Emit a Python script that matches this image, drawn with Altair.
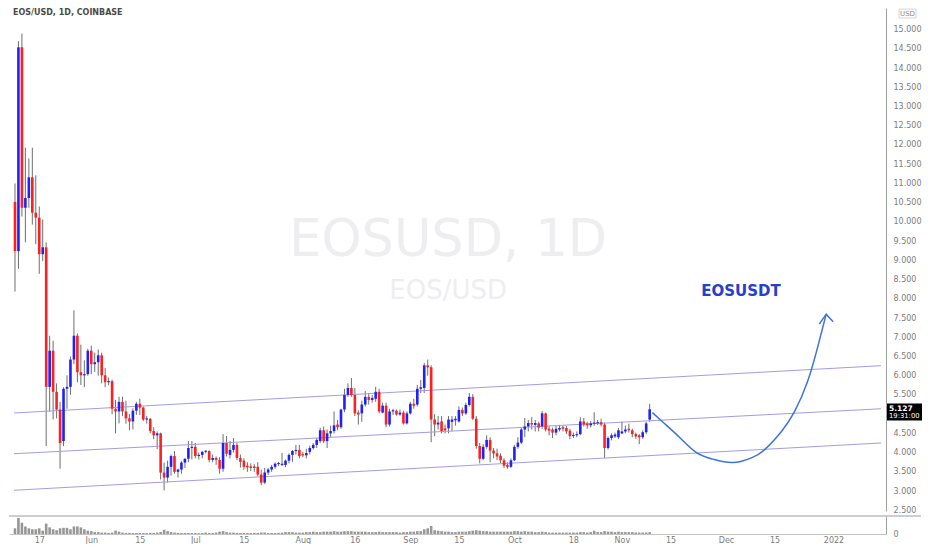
import altair as alt
import pandas as pd

# ---------------- data (EOS/USD daily candles from 2021-05-10) ----------------
opens = [10.52, 9.24, 14.54, 10.37, 10.62, 11.16, 10.24, 10.11, 9.16, 9.34,
         5.71, 6.65, 5.58, 5.12, 4.30, 5.66, 5.71, 6.42, 7.04, 6.09,
         6.01, 6.04, 6.65, 6.30, 6.35, 6.53, 6.01, 5.83, 5.86, 5.14,
         5.07, 5.32, 5.07, 4.89, 4.81, 5.09, 5.27, 5.17, 4.86, 4.88,
         4.56, 4.45, 4.50, 3.48, 3.35, 3.63, 3.91, 3.50, 3.56, 3.74,
         3.84, 4.12, 4.15, 3.91, 3.94, 4.02, 4.04, 3.81, 3.86, 3.81,
         3.58, 4.25, 3.94, 4.07, 4.20, 3.86, 3.79, 3.66, 3.64, 3.64,
         3.63, 3.43, 3.22, 3.48, 3.56, 3.63, 3.70, 3.68, 3.68, 3.79,
         3.94, 4.04, 4.07, 3.96, 3.93, 4.02, 4.12, 4.20, 4.30, 4.58,
         4.30, 4.50, 4.56, 4.73, 4.66, 5.12, 5.50, 5.68, 5.50, 5.04,
         5.02, 5.25, 5.45, 5.37, 5.40, 5.58, 5.04, 5.22, 4.73, 5.07,
         5.09, 4.99, 5.04, 4.76, 5.02, 5.27, 5.25, 5.66, 5.68, 6.27,
         6.22, 4.86, 4.73, 4.81, 4.63, 4.63, 4.80, 4.84, 4.81, 5.11,
         5.02, 5.24, 5.45, 4.88, 4.17, 3.84, 4.15, 4.33, 4.05, 3.98,
         3.92, 3.80, 3.68, 3.63, 3.80, 4.15, 4.26, 4.60, 4.68, 4.77,
         4.72, 4.76, 4.68, 5.02, 4.62, 4.60, 4.52, 4.60, 4.66, 4.64,
         4.57, 4.43, 4.45, 4.48, 4.81, 4.76, 4.71, 4.75, 4.76, 4.79,
         4.73, 4.12, 4.38, 4.42, 4.40, 4.50, 4.55, 4.62, 4.58, 4.48,
         4.45, 4.40, 4.53, 4.86]
highs = [11.00, 14.70, 14.90, 11.93, 11.65, 11.93, 11.21, 10.40, 10.06, 9.47,
         7.04, 6.91, 5.80, 5.32, 5.70, 6.01, 6.50, 7.70, 7.10, 6.81,
         6.40, 6.70, 6.78, 6.60, 6.68, 6.60, 6.20, 5.95, 5.90, 5.37,
         5.45, 5.45, 5.35, 5.00, 5.15, 5.32, 5.40, 5.20, 4.95, 4.90,
         4.66, 4.55, 4.52, 3.74, 3.79, 3.95, 4.04, 3.58, 3.78, 3.85,
         4.30, 4.30, 4.25, 4.00, 4.04, 4.06, 4.06, 3.95, 3.90, 3.88,
         4.48, 4.43, 4.30, 4.38, 4.25, 3.95, 3.85, 3.75, 3.72, 3.70,
         3.75, 3.55, 3.60, 3.60, 3.68, 3.75, 3.76, 3.99, 3.82, 3.98,
         4.07, 4.20, 4.20, 4.02, 4.10, 4.18, 4.25, 4.38, 4.65, 4.68,
         4.60, 4.70, 5.07, 4.85, 5.14, 5.66, 5.80, 5.94, 5.68, 5.10,
         5.35, 5.60, 5.55, 5.50, 5.71, 5.66, 5.30, 5.30, 5.14, 5.14,
         5.12, 5.12, 5.09, 5.07, 5.32, 5.40, 5.76, 5.89, 6.33, 6.42,
         6.27, 5.00, 4.95, 4.95, 4.73, 4.95, 4.95, 4.95, 5.20, 5.17,
         5.30, 5.55, 5.52, 4.95, 4.25, 4.22, 4.45, 4.40, 4.12, 4.10,
         3.98, 3.85, 3.75, 3.85, 4.20, 4.40, 4.65, 4.90, 4.85, 4.92,
         4.85, 4.80, 5.08, 5.04, 4.70, 4.65, 4.70, 4.72, 4.70, 4.70,
         4.62, 4.52, 4.55, 4.92, 4.90, 4.80, 4.82, 5.05, 4.85, 4.88,
         4.78, 4.42, 4.50, 4.52, 4.64, 4.81, 4.70, 4.75, 4.62, 4.52,
         4.48, 4.58, 4.80, 5.27]
lows = [8.19, 8.78, 10.14, 9.47, 10.37, 9.93, 9.42, 8.65, 8.98, 4.17,
        5.07, 4.86, 4.89, 3.58, 4.17, 5.14, 5.50, 6.30, 5.83, 5.76,
        5.70, 6.00, 6.04, 6.10, 6.00, 5.80, 5.70, 5.75, 5.00, 4.50,
        4.76, 4.95, 4.75, 4.58, 4.60, 4.98, 4.98, 4.82, 4.75, 4.50,
        4.35, 4.09, 3.30, 3.02, 3.22, 3.40, 3.45, 3.35, 3.45, 3.60,
        3.75, 3.82, 3.85, 3.82, 3.85, 3.98, 3.75, 3.75, 3.68, 3.45,
        3.50, 3.90, 3.85, 4.00, 3.80, 3.61, 3.55, 3.50, 3.52, 3.50,
        3.38, 3.15, 3.18, 3.42, 3.50, 3.58, 3.65, 3.65, 3.62, 3.72,
        3.76, 3.95, 3.85, 3.88, 3.85, 3.95, 4.08, 4.12, 4.25, 4.25,
        4.12, 4.40, 4.50, 4.58, 4.62, 5.05, 5.45, 5.45, 4.95, 4.73,
        4.80, 5.20, 5.25, 5.30, 5.32, 5.02, 5.02, 4.66, 4.68, 4.98,
        4.96, 4.96, 4.73, 4.73, 4.99, 5.14, 5.20, 5.55, 5.55, 6.00,
        4.27, 4.43, 4.60, 4.50, 4.50, 4.50, 4.55, 4.70, 4.78, 4.95,
        4.98, 5.20, 4.85, 4.10, 3.72, 3.80, 4.10, 3.75, 3.85, 3.80,
        3.72, 3.60, 3.58, 3.60, 3.78, 4.10, 4.22, 4.40, 4.55, 4.60,
        4.55, 4.55, 4.62, 4.55, 4.45, 4.38, 4.45, 4.55, 4.55, 4.48,
        4.35, 4.38, 4.40, 4.45, 4.68, 4.62, 4.65, 4.70, 4.72, 4.68,
        3.86, 4.08, 4.32, 4.38, 4.35, 4.48, 4.50, 4.52, 4.40, 4.36,
        4.22, 4.36, 4.48, 4.80]
closes = [9.24, 14.54, 10.37, 10.62, 11.16, 10.24, 10.11, 9.16, 9.34, 5.71,
          6.65, 5.58, 5.12, 4.25, 5.66, 5.71, 6.42, 7.04, 6.09, 6.01,
          6.04, 6.65, 6.30, 6.35, 6.53, 6.01, 5.83, 5.86, 5.14, 5.07,
          5.32, 5.07, 4.89, 4.81, 5.09, 5.27, 5.17, 4.86, 4.88, 4.56,
          4.45, 4.50, 3.48, 3.35, 3.63, 3.91, 3.50, 3.56, 3.74, 3.84,
          4.12, 4.15, 3.91, 3.94, 4.02, 4.04, 3.81, 3.86, 3.81, 3.58,
          4.25, 3.97, 4.07, 4.20, 3.86, 3.76, 3.63, 3.62, 3.60, 3.60,
          3.43, 3.22, 3.48, 3.56, 3.63, 3.71, 3.72, 3.70, 3.79, 3.94,
          4.04, 4.07, 3.91, 3.93, 3.99, 4.12, 4.20, 4.33, 4.58, 4.30,
          4.50, 4.56, 4.71, 4.66, 5.12, 5.50, 5.68, 5.50, 5.02, 4.99,
          5.25, 5.45, 5.37, 5.42, 5.58, 5.07, 5.22, 4.73, 5.07, 5.10,
          4.99, 5.04, 4.76, 5.02, 5.27, 5.22, 5.66, 5.70, 6.27, 6.22,
          4.86, 4.73, 4.78, 4.56, 4.58, 4.86, 4.86, 4.88, 5.11, 5.02,
          5.24, 5.45, 4.88, 4.17, 3.84, 4.15, 4.33, 4.05, 3.98, 3.90,
          3.80, 3.66, 3.63, 3.80, 4.15, 4.26, 4.60, 4.68, 4.77, 4.73,
          4.77, 4.65, 5.02, 4.60, 4.57, 4.52, 4.62, 4.64, 4.62, 4.55,
          4.43, 4.46, 4.48, 4.81, 4.73, 4.71, 4.76, 4.78, 4.79, 4.73,
          4.12, 4.38, 4.45, 4.47, 4.58, 4.55, 4.60, 4.58, 4.48, 4.42,
          4.40, 4.53, 4.76, 5.127]
volumes = [6, 17, 12, 8, 6, 5, 5, 6, 3.5, 11, 7, 5, 4, 6, 6.5, 6.5, 5, 8, 8, 7, 5, 3.5, 3,
           2, 2, 1.5, 1.5, 1.2, 1.5, 3.5, 2.5, 1.5, 1.2, 1.2, 1, 1, 1, 1, 1, 1.2, 1.2, 1.5,
           2, 4.5, 3, 2, 1.5, 1.2, 1, 1, 1, 1, 1, 0.8, 1, 1.5, 1, 1, 1.5, 2.5,
           3, 2, 1.5, 1.5, 1.2, 1, 1, 1, 1, 1.2, 1.2, 1.5, 1.5, 1, 1, 1, 1.2, 1.5, 2, 2,
           2, 1.5, 1.5, 1.5, 2, 2, 2.5, 2, 2, 2.5, 2.5, 2.5, 3, 2.5,
           2.5, 3, 3, 3, 2.5, 2.5, 2.5, 2.5, 2, 2, 2, 2.5, 2, 2, 2, 2, 2, 1.5, 2, 2,
           2.5, 2.5, 3, 3, 5, 6, 8.5,
           4, 3.5, 3, 2.5, 2.5, 2, 2, 2.5, 2.5, 2.5, 3, 3.5, 4, 3.5, 3, 3, 2.5,
           2.5, 2.5, 2.5, 2.5, 2.5, 2.5, 3, 3, 2.5, 3, 2.5, 2.5, 2, 2, 2.5, 2, 1.5, 1.5,
           1.5, 1.5, 1.5, 1.5, 1.5, 1.5, 1.5, 2, 2, 1.5, 2,
           3.5, 2, 2, 3, 2.5, 2.5, 2, 2.5, 2, 2, 2, 2, 1.5, 1.5, 1.5, 1.5, 2]

# x-axis ticks (day index from 2021-05-10) and their labels
tick_days = [7, 22, 36, 52, 66, 83, 98, 114, 128, 144, 161, 175, 189, 205, 219, 236]
tick_labels = ["17", "Jun", "15", "Jul", "15", "Aug", "16", "Sep", "15", "Oct",
               "18", "Nov", "15", "Dec", "15", "2022"]
price_ticks = [2.5, 3.0, 3.5, 4.0, 4.5, 5.5, 6.0, 6.5, 7.0, 7.5, 8.0, 8.5, 9.0,
               9.5, 10.0, 10.5, 11.0, 11.5, 12.0, 12.5, 13.0, 13.5, 14.0, 14.5, 15.0]

# parallel channel (start / end of each line)
channel_days = [-0.28, 249.7]
channel_top = [5.03, 6.26]
channel_mid = [3.97, 5.14]
channel_bot = [3.02, 4.25]

# projected path (hand drawn curve) and its arrow head
curve_days = [183.8, 187.1, 191.8, 196.5, 201.2, 206.9, 212.5, 216.3, 221.0, 224.8, 228.5, 231.4, 233.9]
curve_prices = [5.04, 4.77, 4.38, 4.00, 3.83, 3.74, 3.87, 4.09, 4.55, 5.07, 5.84, 6.73, 7.60]
arrow_days = [231.9, 233.9, 235.9]
arrow_prices = [7.34, 7.60, 7.40]

last_time = "19:31:00"

# ---------------- layout ----------------
W = 877
H = 503
VH = 18
X_DOMAIN = [-0.28, 249.7]
Y_DOMAIN = [2.481, 15.563]

BLUE = "#1f1fff"
RED = "#ff1f1f"
WICK = "#6e6e6e"
CHAN = "#a29ce6"
CURVE = "#3d74d9"
AXIS_TXT = "#7c7c7c"
AXIS_LINE = "#a0a0a0"

xs = alt.Scale(domain=X_DOMAIN, nice=False, zero=False)
ys = alt.Scale(domain=Y_DOMAIN, nice=False, zero=False)

df = pd.DataFrame({"day": list(range(len(opens))), "open": opens, "high": highs,
                   "low": lows, "close": closes, "volume": volumes})
df["dir"] = ["up" if c >= o else "down" for o, c in zip(opens, closes)]

price_axis = alt.Axis(orient="right", values=price_ticks, format=".3f", title=None,
                      grid=False, ticks=False, domainColor=AXIS_LINE, labelColor=AXIS_TXT,
                      labelFontSize=8, labelPadding=7, labelOverlap=False)


def px(field="day"):
    return alt.X(f"{field}:Q", scale=xs, axis=None)


def py(field="price"):
    return alt.Y(f"{field}:Q", scale=ys, axis=price_axis)


base = alt.Chart(df)

wicks = base.mark_rule(color=WICK, strokeWidth=1).encode(x=px(), y=py("low"), y2="high:Q")

bodies = base.transform_calculate(
    lo="min(datum.open, datum.close)",
    hi="max(max(datum.open, datum.close), min(datum.open, datum.close) + 0.03)",
).mark_bar(size=2.6).encode(
    x=px(), y=py("lo"), y2="hi:Q",
    color=alt.Color("dir:N", scale=alt.Scale(domain=["up", "down"], range=[BLUE, RED]), legend=None),
)

chan_rows = []
for name, vals in [("top", channel_top), ("mid", channel_mid), ("bot", channel_bot)]:
    for d, v in zip(channel_days, vals):
        chan_rows.append({"line": name, "day": d, "price": v})
channels = alt.Chart(pd.DataFrame(chan_rows)).mark_line(color=CHAN, strokeWidth=1).encode(
    x=px(), y=py(), detail="line:N")

curve = alt.Chart(pd.DataFrame({"day": curve_days, "price": curve_prices,
                                "o": list(range(len(curve_days)))})).mark_line(
    color=CURVE, strokeWidth=1.5, interpolate="natural").encode(x=px(), y=py(), order="o:Q")
arrow = alt.Chart(pd.DataFrame({"day": arrow_days, "price": arrow_prices, "o": [0, 1, 2]})).mark_line(
    color=CURVE, strokeWidth=1.5).encode(x=px(), y=py(), order="o:Q")

wm_big = pd.DataFrame({"day": [124.9], "price": [9.50], "t": ["EOSUSD, 1D"]})
wm_small = pd.DataFrame({"day": [124.9], "price": [8.19], "t": ["EOS/USD"]})
watermark_big = alt.Chart(wm_big).mark_text(fontSize=51, color="#eeeef1", align="center",
                                            baseline="middle").encode(x=px(), y=py(), text="t:N")
watermark_small = alt.Chart(wm_small).mark_text(fontSize=26, color="#eeeef1", align="center",
                                                baseline="middle").encode(x=px(), y=py(), text="t:N")

label_df = pd.DataFrame({"day": [209.3], "price": [8.19], "t": ["EOSUSDT"]})
eosusdt = alt.Chart(label_df).mark_text(fontSize=15, fontWeight="bold", color="#2541c9",
                                        align="center", baseline="middle").encode(
    x=px(), y=py(), text="t:N")

title_df = pd.DataFrame({"t": ["EOS/USD, 1D, COINBASE"]})
title = alt.Chart(title_df).mark_text(fontSize=8, fontWeight="bold", color="#4a4a4a",
                                      align="left", baseline="top").encode(
    x=alt.value(4), y=alt.value(1), text="t:N")

last_price = closes[-1]
box_df = pd.DataFrame({"price": [last_price], "top": [last_price + 0.15], "bot": [last_price - 0.29],
                       "t1": [f"{last_price:.3f}"], "t2": [last_time]})
price_box = alt.Chart(box_df).mark_rect(color="#000000").encode(
    x=alt.value(W + 1), x2=alt.value(W + 36), y=py("top"), y2="bot:Q")
price_t1 = alt.Chart(box_df).mark_text(color="white", fontSize=7.5, fontWeight="bold", align="left",
                                       baseline="middle", dy=-0.5).encode(
    x=alt.value(W + 3), y=py(), text="t1:N")
price_t2 = alt.Chart(box_df).mark_text(color="white", fontSize=6.8, align="left",
                                       baseline="middle", dy=6.5).encode(
    x=alt.value(W + 3), y=py(), text="t2:N")

usd_df = pd.DataFrame({"t": ["USD"]})
usd_box = alt.Chart(usd_df).mark_rect(fill="white", stroke="#d6d6d6", strokeWidth=1).encode(
    x=alt.value(W + 13), x2=alt.value(W + 30), y=alt.value(1), y2=alt.value(10))
usd_txt = alt.Chart(usd_df).mark_text(fontSize=7, color="#8a8a8a", align="center",
                                      baseline="middle").encode(
    x=alt.value(W + 21.5), y=alt.value(5.7), text="t:N")

price_chart = alt.layer(
    wicks, watermark_big, watermark_small, channels, bodies, curve, arrow, eosusdt,
    title, price_box, price_t1, price_t2, usd_box, usd_txt,
).properties(width=W, height=H)

# ---------------- volume pane ----------------
labels_js = "[" + ",".join(f"'{l}'" for l in tick_labels) + "]"
vals_js = "[" + ",".join(str(v) for v in tick_days) + "]"
x_axis = alt.Axis(values=tick_days, labelExpr=f"{labels_js}[indexof({vals_js}, datum.value)]",
                  title=None, grid=False, ticks=False, domainColor="#c4c4c4",
                  labelColor=AXIS_TXT, labelFontSize=8, labelPadding=2,
                  labelFlush=False, labelOverlap=False)
vol_axis = alt.Axis(orient="right", values=[0], format="d", title=None, grid=False, ticks=False,
                    domainColor=AXIS_LINE, labelColor=AXIS_TXT, labelFontSize=8, labelPadding=7)

vol_bars = base.mark_bar(size=2.6, color="#979797").encode(
    x=alt.X("day:Q", scale=xs, axis=x_axis),
    y=alt.Y("volume:Q", scale=alt.Scale(domain=[0, 19], nice=False), axis=vol_axis),
)
sep_df = pd.DataFrame({"k": [0]})
separator = alt.Chart(sep_df).mark_rule(color="#9c9c9c", strokeWidth=1).encode(
    x=alt.value(0), x2=alt.value(W + 35), y=alt.value(0))

vol_chart = alt.layer(vol_bars, separator).properties(width=W, height=VH)

chart = alt.vconcat(price_chart, vol_chart, spacing=0).properties(
    padding={"left": 0, "top": 0, "right": 0, "bottom": 0}
).configure(font="DejaVu Sans", background="white").configure_view(stroke=None)

chart.save("out.html", embed_options={"renderer": "svg", "actions": False})
